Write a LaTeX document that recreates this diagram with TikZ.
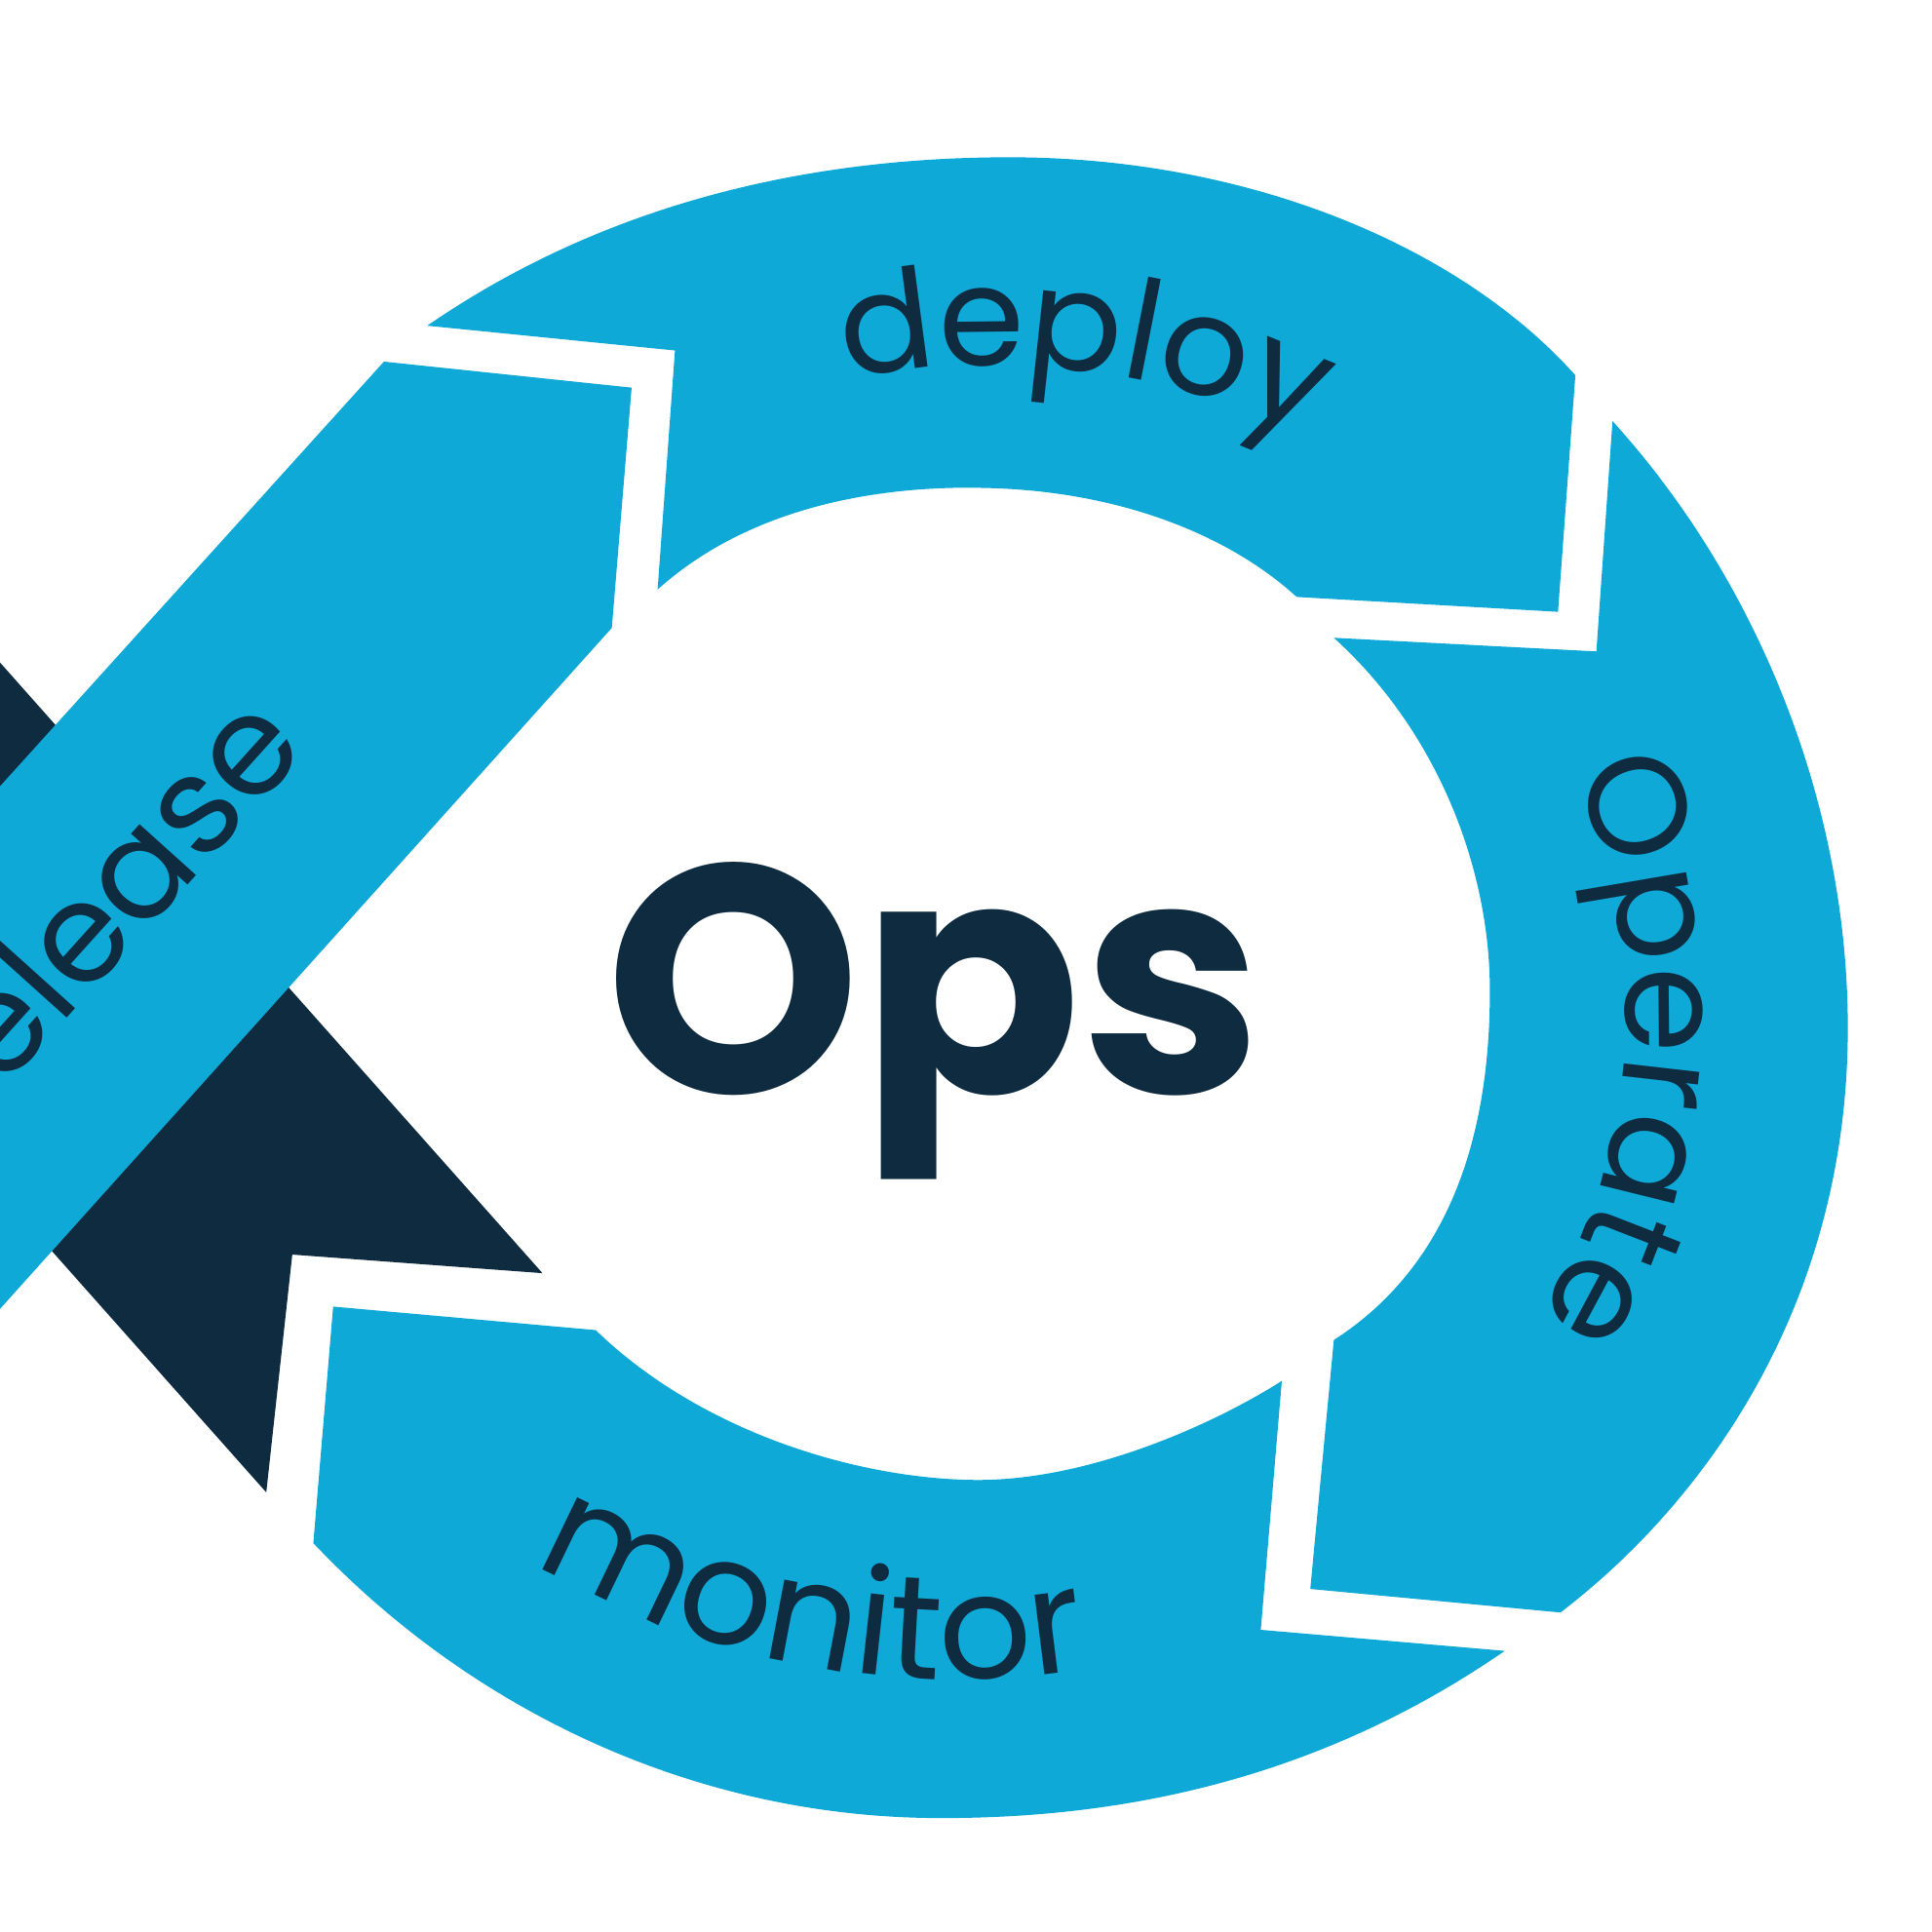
\documentclass[tikz,border=0pt]{standalone}
\usepackage{fontspec}
\setmainfont{Poppins}
\usetikzlibrary{decorations.text}
\definecolor{cblue}{HTML}{0EA9D6}
\definecolor{cnavy}{HTML}{0F2B40}
\begin{document}
\begin{tikzpicture}[x=1pt,y=1pt,
  seg/.style={fill=cblue,draw=none},
  band/.style={fill=cnavy,draw=none},
  arclabel/.style 2 args={decorate,decoration={text along path,text align=center,text color=cnavy,
     text={|\fontsize{#2}{#2}\selectfont|#1}}}]
\useasboundingbox (0,0) rectangle (1560,-1560);
\begin{scope}
\clip (0,0) rectangle (1560,-1560);
% dark band
\path[band] (-10,-523.7) -- (438,-1028) -- (236,-1013) -- (215,-1205) -- (-10,-951.7) -- cycle;
% release band
\path[seg] (-10,-646) -- (310,-292) -- (510,-313) -- (494,-507) -- (-10,-1068) -- cycle;
\end{scope}
% deploy
\path[seg] (345,-263) .. controls (480,-170) and (640,-127) .. (815,-127)
  .. controls (1010,-127) and (1180,-200) .. (1272,-303)
  -- (1258,-494) -- (1047,-482)
  .. controls (990,-430) and (900,-396) .. (795,-394)
  .. controls (720,-392) and (610,-405) .. (531,-476)
  -- (545,-283) -- cycle;
% operate
\path[seg] (1302,-340) .. controls (1420,-470) and (1492,-650) .. (1492,-830)
  .. controls (1492,-1050) and (1380,-1210) .. (1260,-1302)
  -- (1058,-1283) -- (1077,-1082)
  .. controls (1150,-1035) and (1203,-950) .. (1203,-800)
  .. controls (1203,-700) and (1160,-590) .. (1077,-515)
  -- (1289,-526) -- cycle;
% monitor
\path[seg] (1215,-1333) .. controls (1060,-1440) and (900,-1468) .. (760,-1468)
  .. controls (560,-1468) and (380,-1380) .. (253,-1246)
  -- (269,-1055) -- (481,-1074)
  .. controls (570,-1160) and (700,-1195) .. (790,-1195)
  .. controls (880,-1195) and (980,-1150) .. (1035,-1115)
  -- (1018,-1316) -- cycle;
% labels
\node[text=cnavy,font=\fontsize{262}{262}\selectfont\bfseries,anchor=base] (ops) at (754.5,-883) {Ops};
\path[arclabel={deploy}{112}] (800,-900) ++(123:605) arc[start angle=123,end angle=43,radius=605];
\path[arclabel={Operate}{112}] (859,-820) ++(36.5:454) arc[start angle=36.5,end angle=-43.5,radius=454];
\path[arclabel={monitor}{118}] (774,-691) ++(219:665) arc[start angle=219,end angle=299,radius=665];
\begin{scope}
\clip (0,0) rectangle (1560,-1560);
\node[text=cnavy,font=\fontsize{112}{112}\selectfont,anchor=base east,rotate=48,inner sep=0pt] (release) at (250,-605) {release};
\end{scope}
\end{tikzpicture}
\end{document}
